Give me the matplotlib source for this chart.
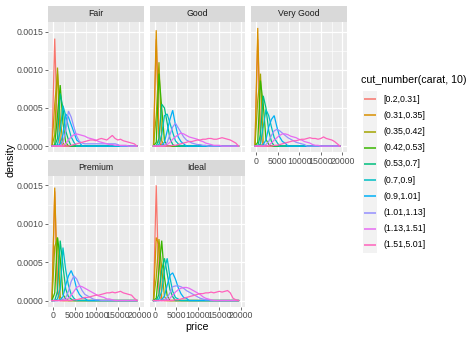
import numpy as np
import matplotlib
matplotlib.use("Agg")
import matplotlib.pyplot as plt

plt.rcParams['font.family'] = ['Liberation Sans', 'DejaVu Sans']

# ---- data -------------------------------------------------------------
cuts = ["Fair", "Good", "Very Good", "Premium", "Ideal"]
carat_groups = ["[0.2,0.31]", "(0.31,0.35]", "(0.35,0.42]", "(0.42,0.53]",
                "(0.53,0.7]", "(0.7,0.9]", "(0.9,1.01]", "(1.01,1.13]",
                "(1.13,1.51]", "(1.51,5.01]"]
group_colors = ["#F8766D", "#D89000", "#A3A500", "#39B600", "#00BF7D",
                "#00BFC4", "#00B0F6", "#9590FF", "#E76BF3", "#FF62BC"]

# frequency-polygon bins over the price range (30 bins, padded each side)
price_min, price_max, n_bins = 326, 18823, 30
bin_width = (price_max - price_min) / (n_bins - 1)
bin_centers = price_min + (np.arange(n_bins + 2) - 1) * bin_width

# densities in units of 1e-5, listed from the first (padding) bin onward;
# bins not listed are empty
fair = [
    [0, 141, 16],
    [0, 55, 95, 7],
    [0, 15, 103, 35, 4],
    [0, 2, 40, 80, 30, 5],
    [0, 0, 10, 69, 50, 20, 8],
    [0, 0, 2, 20, 53, 40, 25, 12, 5],
    [0, 0, 0, 3, 15, 42, 38, 28, 18, 8, 5],
    [0, 0, 0, 0, 5, 20, 46, 38, 25, 13, 6, 4, 3, 3, 3, 3, 3, 3, 3, 3, 3, 3, 3, 3, 2],
    [0, 0, 0, 0, 0, 3, 8, 12, 15, 16, 15, 14, 13, 11, 10, 9, 8, 6, 5, 4, 3, 2, 2, 1, 1, 1, 1, 1],
    [0, 0, 0, 0, 0, 0, 0, 1, 2, 3, 4, 5, 6, 7, 8, 8, 7, 9, 10, 9, 8, 11, 14, 10, 8, 9, 7, 6, 5, 4, 3, 0],
]
good = [
    [0, 140, 17],
    [0, 152, 5],
    [0, 40, 110, 7],
    [0, 5, 95, 50, 7],
    [0, 0, 10, 55, 50, 30, 10, 2],
    [0, 0, 2, 15, 40, 42, 30, 18, 7, 3],
    [0, 0, 0, 1, 5, 20, 35, 47, 28, 12, 6, 3],
    [0, 0, 0, 0, 1, 5, 15, 25, 30, 24, 18, 12, 8, 6, 4, 3, 2, 2, 1, 1],
    [0, 0, 0, 0, 0, 2, 5, 9, 12, 15, 17, 16, 14, 12, 11, 10, 9, 7, 6, 4, 3, 2, 1, 1, 1],
    [0, 0, 0, 0, 0, 0, 0, 1, 1, 2, 3, 4, 5, 6, 6, 7, 8, 8, 9, 9, 10, 10, 9, 9, 10, 11, 10, 9, 8, 6, 4, 0],
]
very_good = [
    [0, 140, 17],
    [0, 155, 2],
    [0, 60, 95, 2],
    [0, 5, 86, 55, 9, 2],
    [0, 0, 15, 66, 50, 20, 6],
    [0, 0, 3, 25, 48, 40, 25, 11, 5],
    [0, 0, 0, 2, 8, 25, 35, 40, 25, 12, 6, 4],
    [0, 0, 0, 0, 2, 6, 14, 20, 22, 20, 17, 14, 11, 9, 7, 5, 4, 3, 2],
    [0, 0, 0, 0, 0, 1, 4, 8, 11, 14, 16, 16, 15, 13, 12, 11, 9, 8, 6, 5, 4, 2, 1, 1],
    [0, 0, 0, 0, 0, 0, 0, 1, 1, 2, 3, 4, 5, 6, 7, 7, 8, 9, 9, 10, 11, 10, 10, 9, 10, 12, 10, 9, 8, 6, 3, 0],
]
premium = [
    [0, 142, 15],
    [0, 147, 10],
    [0, 70, 82, 5],
    [0, 10, 82, 55, 8, 2],
    [0, 0, 12, 78, 45, 15, 5, 2],
    [0, 0, 2, 15, 69, 40, 20, 8, 3],
    [0, 0, 0, 1, 5, 20, 32, 39, 30, 15, 8, 4, 3],
    [0, 0, 0, 0, 1, 4, 12, 25, 32, 28, 20, 13, 8, 6, 4, 2, 1, 1],
    [0, 0, 0, 0, 0, 1, 3, 7, 12, 17, 19, 18, 16, 14, 12, 10, 8, 6, 5, 4, 2, 2, 1],
    [0, 0, 0, 0, 0, 0, 0, 0, 1, 1, 2, 3, 4, 4, 5, 6, 7, 7, 8, 9, 10, 10, 11, 10, 11, 12, 10, 9, 8, 7, 3, 0],
]
ideal = [
    [0, 150, 7],
    [0, 82, 72, 3],
    [0, 30, 80, 42, 5],
    [0, 3, 40, 78, 30, 6],
    [0, 0, 8, 40, 55, 35, 14, 5],
    [0, 0, 2, 12, 40, 55, 30, 12, 4, 2],
    [0, 0, 0, 1, 6, 20, 33, 36, 28, 17, 9, 4, 3],
    [0, 0, 0, 0, 1, 4, 10, 18, 19, 19, 18, 16, 13, 11, 9, 7, 5, 3, 2, 1, 1],
    [0, 0, 0, 0, 0, 1, 3, 7, 11, 14, 16, 17, 17, 16, 14, 12, 10, 8, 5, 3, 2, 1],
    [0, 0, 0, 0, 0, 0, 0, 0, 1, 1, 2, 3, 4, 5, 6, 7, 8, 9, 9, 10, 10, 11, 10, 11, 12, 11, 12, 13, 10, 3, 1, 0],
]
panel_data = [fair, good, very_good, premium, ideal]

x_ticks = [0, 5000, 10000, 15000, 20000]
y_ticks = [0.0, 0.0005, 0.0010, 0.0015]
y_tick_labels = ["0.0000", "0.0005", "0.0010", "0.0015"]


def as_density(vals):
    arr = np.zeros(len(bin_centers))
    arr[:len(vals)] = vals
    return arr * 1e-5


# ---- layout (pixel coordinates) --------------------------------------
W, H = 474, 338
fig = plt.figure(figsize=(W / 100, H / 100), dpi=100)
fig.patch.set_facecolor("white")


def rect(x0, y0, x1, y1):
    return [x0 / W, 1 - y1 / H, (x1 - x0) / W, (y1 - y0) / H]


cols = [(48, 143.5), (149.5, 245), (251, 346.5)]
rows = [((6, 22), (22, 152)), ((159.5, 175.5), (175.5, 306.5))]
slots = [(0, 0), (0, 1), (0, 2), (1, 0), (1, 1)]

ymax = max(max(max(s) for s in p) for p in panel_data) * 1e-5
ylim = (-0.05 * ymax, 1.05 * ymax)
xlim = (-1240, 20970)

TICK_SIZE = 6.3
TITLE_SIZE = 7.7
LINE_W = 0.9

for i, (cut, series) in enumerate(zip(cuts, panel_data)):
    r, c = slots[i]
    (sx0, sx1) = cols[c]
    (st0, st1), (py0, py1) = rows[r]

    ax = fig.add_axes(rect(sx0, py0, sx1, py1))
    ax.set_facecolor("#EBEBEB")
    for sp in ax.spines.values():
        sp.set_visible(False)
    ax.set_xlim(*xlim)
    ax.set_ylim(*ylim)
    ax.set_xticks(x_ticks)
    ax.set_yticks(y_ticks)
    ax.set_xticks([2500, 7500, 12500, 17500], minor=True)
    ax.set_yticks([0.00025, 0.00075, 0.00125], minor=True)
    ax.grid(which="major", color="white", lw=0.9)
    ax.grid(which="minor", color="white", lw=0.45)
    ax.set_axisbelow(True)
    ax.tick_params(which="major", length=2.0, width=0.5, color="#333333",
                   labelsize=TICK_SIZE, labelcolor="#4D4D4D", pad=1.5)
    ax.tick_params(which="minor", length=0)

    if c == 0:
        ax.set_yticklabels(y_tick_labels)
    else:
        ax.tick_params(axis="y", which="major", length=0, labelleft=False)
    bottom_of_column = (r == 1) or (c == 2)
    if bottom_of_column:
        ax.set_xticklabels([str(t) for t in x_ticks])
    else:
        ax.tick_params(axis="x", which="major", length=0, labelbottom=False)

    for vals, col in zip(series, group_colors):
        ax.plot(bin_centers, as_density(vals), color=col, lw=LINE_W,
                solid_joinstyle="miter")

    sax = fig.add_axes(rect(sx0, st0, sx1, st1))
    sax.set_facecolor("#D9D9D9")
    sax.set_xticks([])
    sax.set_yticks([])
    for sp in sax.spines.values():
        sp.set_visible(False)
    sax.text(0.5, 0.5, cut, ha="center", va="center", fontsize=TICK_SIZE,
             color="#1A1A1A", transform=sax.transAxes)

# axis titles
fig.text(197 / W, 1 - 327 / H, "price", ha="center", va="center",
         fontsize=TITLE_SIZE, color="black")
fig.text(10 / W, 1 - 160 / H, "density", ha="center", va="center",
         rotation=90, fontsize=TITLE_SIZE, color="black")

# legend: a column of keys on a light background, one row per carat group
key_x0, key_x1 = 362.7, 377.3
key_top, key_h = 91, 16.2
n = len(carat_groups)
lax = fig.add_axes(rect(key_x0, key_top, key_x1, key_top + n * key_h))
lax.set_xlim(0, 1)
lax.set_ylim(n, 0)
lax.set_facecolor("#F2F2F2")
lax.set_xticks([])
lax.set_yticks([])
for sp in lax.spines.values():
    sp.set_visible(False)
for j, (lab, col) in enumerate(zip(carat_groups, group_colors)):
    lax.plot([0.1, 0.9], [j + 0.5, j + 0.5], color=col, lw=1.1,
             solid_capstyle="butt")
    fig.text(383.3 / W, 1 - (key_top + (j + 0.5) * key_h) / H, lab,
             ha="left", va="center", fontsize=TICK_SIZE, color="black")

fig.text(361 / W, 1 - 80 / H, "cut_number(carat, 10)", ha="left",
         va="center", fontsize=TITLE_SIZE, color="black")

fig.savefig("out.png", dpi=100)
